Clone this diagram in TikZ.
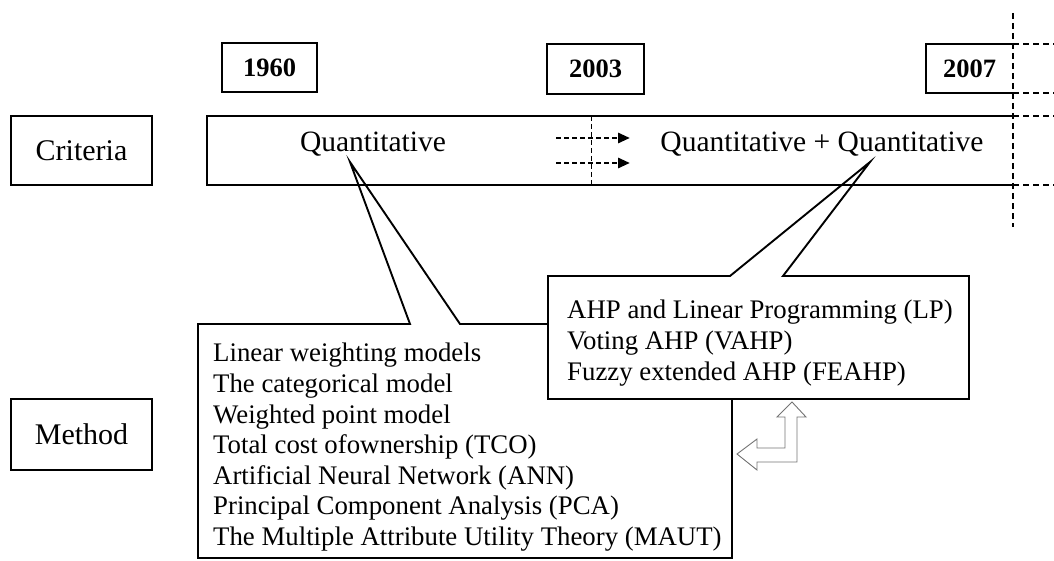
\documentclass[tikz,border=0pt]{standalone}
\usepackage{fontspec}
\setmainfont{Liberation Serif}
\usetikzlibrary{arrows.meta}
\begin{document}
\begin{tikzpicture}[x=1bp,y=-1bp,
  box/.style={draw,line width=2.2bp,inner sep=0pt},
  lab/.style={font=\fontsize{30bp}{32bp}\selectfont},
  yr/.style={font=\fontsize{26.5bp}{28bp}\selectfont\bfseries},
  qt/.style={font=\fontsize{29.5bp}{31bp}\selectfont,anchor=base,inner sep=0pt},
  item/.style={font=\fontsize{26.8bp}{30bp}\selectfont,anchor=base west,inner sep=0pt},
  edge/.style={line width=2.4bp},
  dsh/.style={dash pattern=on 6bp off 4bp,line width=1.8bp},
  thindsh/.style={dash pattern=on 5bp off 3bp,line width=1bp},
  darr/.style={dash pattern=on 5bp off 3bp,line width=2.8bp,-{Triangle[length=12bp,width=10bp]}},
  callout/.style={draw,fill=white,line width=1.9bp,line join=miter},
  hollow/.style={draw=black!55,line width=0.9bp,line join=miter}
]
\useasboundingbox (0,0) rectangle (1054,561);

% row labels
\node[box,lab,minimum width=141bp,minimum height=69bp] (crit) at (81.5,150.5) {Criteria};
\node[box,lab,minimum width=141bp,minimum height=71bp] (meth) at (81.5,434.5) {Method};

% year boxes
\node[box,yr,minimum width=95bp,minimum height=49bp] (y1960) at (269.5,67.5) {1960};
\node[box,yr,minimum width=97bp,minimum height=50bp] (y2003) at (595.5,69) {2003};
\node[yr,inner sep=0pt] (y2007) at (969.5,68.5) {2007};
\coordinate (b7a) at (1013,44);
\coordinate (b7b) at (926,44);
\coordinate (b7c) at (926,93);
\coordinate (b7d) at (1013,93);
\coordinate (b7e) at (1054,44);
\coordinate (b7f) at (1054,93);

% band corners
\coordinate (ba) at (1013,116);
\coordinate (bb) at (207,116);
\coordinate (bc) at (207,185);
\coordinate (bd) at (1013,185);
\coordinate (be) at (1054,116);
\coordinate (bf) at (1054,185);

% callout tips
\coordinate (tipL) at (350,162);
\coordinate (tipR) at (870,162);

% methods box with callout
\path[callout] (198,324) -- (410,324) -- (tipL) -- (460,324) -- (732,324)
  -- (732,558) -- (198,558) -- cycle;
% AHP box with callout
\path[callout] (548,276) -- (730,276) -- (tipR) -- (783,276) -- (969,276)
  -- (969,399) -- (548,399) -- cycle;

% band drawn over callouts
\draw[edge] (ba) -- (bb) -- (bc) -- (bd);
\draw[dsh] (ba) -- (be);
\draw[dsh] (bd) -- (bf);
\draw[edge] (b7a) -- (b7b) -- (b7c) -- (b7d);
\draw[dsh] (b7a) -- (b7e);
\draw[dsh] (b7d) -- (b7f);

% vertical dashed lines
\coordinate (v1) at (1013,13);
\coordinate (v2) at (1013,227);
\draw[dsh] (v1) -- (v2);
\coordinate (s1) at (591,116);
\coordinate (s2) at (591,185);
\draw[thindsh] (s1) -- (s2);

% dashed arrows
\coordinate (a1s) at (556,138);
\coordinate (a1e) at (630,138);
\coordinate (a2s) at (556,163);
\coordinate (a2e) at (630,163);
\draw[darr] (a1s) -- (a1e);
\draw[darr] (a2s) -- (a2e);

% band texts
\node[qt] (q1) at (373,152) {Quantitative};
\node[qt] (q2) at (822,152) {Quantitative + Quantitative};

% AHP items
\node[item] (h1) at (567,319) {AHP and Linear Programming (LP)};
\node[item] (h2) at (567,350) {Voting AHP (VAHP)};
\node[item] (h3) at (567,381) {Fuzzy extended AHP (FEAHP)};

% method items
\node[item] (m1) at (213,362) {Linear weighting models};
\node[item] (m2) at (213,392.5) {The categorical model};
\node[item] (m3) at (213,423) {Weighted point model};
\node[item] (m4) at (213,453.5) {Total cost ofownership (TCO)};
\node[item] (m5) at (213,484) {Artificial Neural Network (ANN)};
\node[item] (m6) at (213,514.5) {Principal Component Analysis (PCA)};
\node[item] (m7) at (213,545) {The Multiple Attribute Utility Theory (MAUT)};

% hollow bent double arrow
\path[hollow] (792,402) -- (806,417) -- (797,417) -- (797,462) -- (757,462)
  -- (757,470) -- (737,454) -- (757,439) -- (757,448) -- (785,448)
  -- (785,417) -- (777,417) -- cycle;
\end{tikzpicture}
\end{document}
